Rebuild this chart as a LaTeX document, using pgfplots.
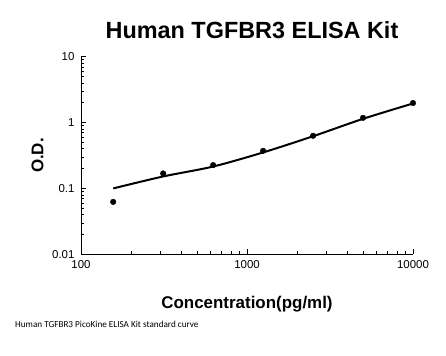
\documentclass[border=0pt]{standalone}
\usepackage{pgfplots}
\pgfplotsset{compat=1.18}
\usepackage{fontspec}
\setmainfont{Liberation Sans}
\newfontfamily\calibri{Carlito}
\begin{document}
\begin{tikzpicture}
\useasboundingbox (0,0) rectangle (446bp,356bp);
\begin{axis}[
  at={(81bp,101.7bp)}, anchor=south west,
  scale only axis, width=332bp, height=197.6bp,
  xmode=log, ymode=log,
  xmin=100, xmax=10000, ymin=0.01, ymax=10,
  axis x line*=bottom, axis y line*=left,
  axis line style={-, line width=0.8pt},
  xtick={100,1000,10000}, xticklabels={100,1000,10000},
  ytick={0.01,0.1,1,10}, yticklabels={0.01,0.1,1,10},
  tick align=inside,
  major tick length=5bp, minor tick length=3bp,
  every tick/.style={black, line width=0.6pt},
  tick label style={font=\fontsize{11.5}{13}\selectfont},
  /pgf/number format/assume math mode=true,
  xticklabel style={yshift=-3bp},
  yticklabel style={xshift=-3bp},
  xlabel={\fontsize{17}{20}\selectfont\bfseries Concentration(pg/ml)},
  xlabel style={at={(axis description cs:0.5,-0.252)}, anchor=center},
  ylabel={\fontsize{17}{20}\selectfont\bfseries O.D.},
  ylabel style={at={(axis description cs:-0.131,0.5)}, anchor=center},
  title={\fontsize{23.5}{28}\selectfont\bfseries Human TGFBR3 ELISA Kit},
  title style={at={(axis description cs:0.515,1.106)}, anchor=center},
  clip=false,
]
\addplot[black, line width=2pt, smooth, no marks] coordinates {
  (156.25,0.100) (312.5,0.152) (625,0.215) (1250,0.352) (2500,0.620) (5000,1.140) (10000,1.950)
};
\addplot[only marks, mark=*, mark size=2.8bp, black] coordinates {
  (156.25,0.0625) (312.5,0.169) (625,0.226) (1250,0.372) (2500,0.630) (5000,1.180) (10000,1.980)
};
\end{axis}
\node[anchor=west, font=\calibri\fontsize{9.2}{10}\selectfont, inner sep=0pt] at (15bp,32bp) {Human TGFBR3 PicoKine ELISA Kit standard curve};
\end{tikzpicture}
\end{document}
